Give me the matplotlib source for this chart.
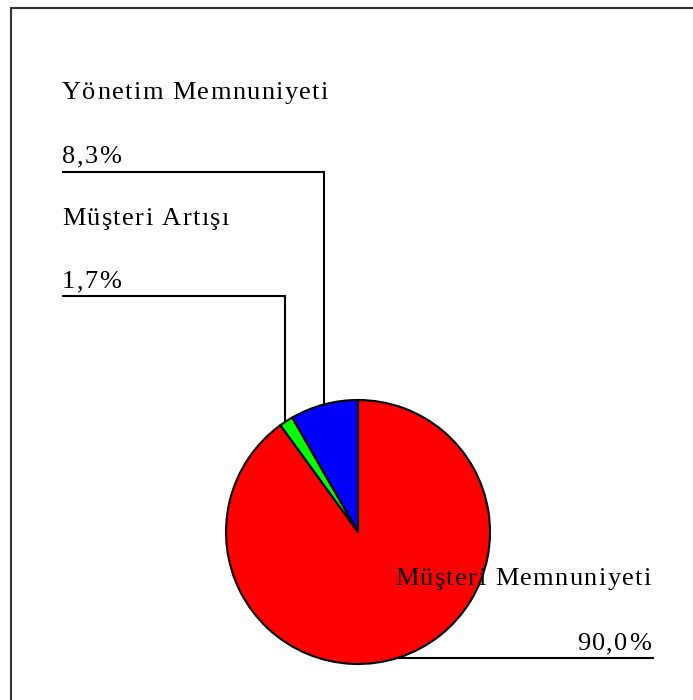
import numpy as np
import matplotlib
matplotlib.use("Agg")
from matplotlib import pyplot as plt
from matplotlib.patches import Rectangle
from matplotlib.font_manager import FontProperties, findfont
from matplotlib.ft2font import FT2Font

# slice data (clockwise from 12 o'clock)
labels = ["Müşteri Memnuniyeti", "Müşteri Artışı", "Yönetim Memnuniyeti"]
values = [90.0, 1.7, 8.3]
pct_text = ["90,0%", "1,7%", "8,3%"]
colors = ["#ff0000", "#00ff00", "#0000ff"]

W, H = 693, 700
DPI = 100
fig = plt.figure(figsize=(W / DPI, H / DPI), dpi=DPI)
ax = fig.add_axes([0, 0, 1, 1])


def py(y):
    # pixel row (from top) -> data y
    return H - y


cx, cy, r = 358, py(532), 132
ax.pie(values, colors=colors, startangle=90, counterclock=False,
       center=(cx, cy), radius=r,
       wedgeprops=dict(edgecolor="black", linewidth=1.5))
ax.set_xlim(0, W)
ax.set_ylim(0, H)
ax.set_aspect("auto")
ax.axis("off")

# outer frame (only left/top visible)
ax.add_patch(Rectangle((11, py(740)), 720, 732, fill=False,
                       edgecolor="#333333", linewidth=1.5, clip_on=False))

FAMILY = "Liberation Serif"
SIZE = 19
TRACK = 1.4  # extra px between letters
ft = FT2Font(findfont(FontProperties(family=FAMILY)))
ft.set_size(SIZE, DPI)


def advances(s):
    out = []
    for c in s:
        g = ft.load_char(ord(c))
        out.append(g.linearHoriAdvance / 65536.0)
    return out


def spaced_text(x, y, s, ha="left"):
    adv = advances(s)
    total = sum(adv) + TRACK * (len(s) - 1)
    x0 = x if ha == "left" else x - total
    for c, a in zip(s, adv):
        ax.text(x0, y, c, ha="left", va="baseline", family=FAMILY,
                fontsize=SIZE, color="black")
        x0 += a + TRACK


def circle_y_top(x):
    return cy + np.sqrt(r ** 2 - (x - cx) ** 2)


# Yönetim Memnuniyeti
spaced_text(62, py(99), labels[2])
spaced_text(62, py(163), pct_text[2])
ax.plot([63, 324, 324], [py(171.5), py(171.5), circle_y_top(324)],
        color="black", lw=1.5, solid_joinstyle="miter")

# Müşteri Artışı
spaced_text(62, py(225), labels[1])
spaced_text(62, py(288), pct_text[1])
ax.plot([63, 285, 285], [py(296), py(296), circle_y_top(285)],
        color="black", lw=1.5, solid_joinstyle="miter")

# Müşteri Memnuniyeti
spaced_text(651, py(585), labels[0], ha="right")
spaced_text(651, py(650), pct_text[0], ha="right")
yl = py(658)
ax.plot([cx + np.sqrt(r ** 2 - (yl - cy) ** 2), 653], [yl, yl],
        color="black", lw=1.5)

fig.savefig("out.png", dpi=DPI)
